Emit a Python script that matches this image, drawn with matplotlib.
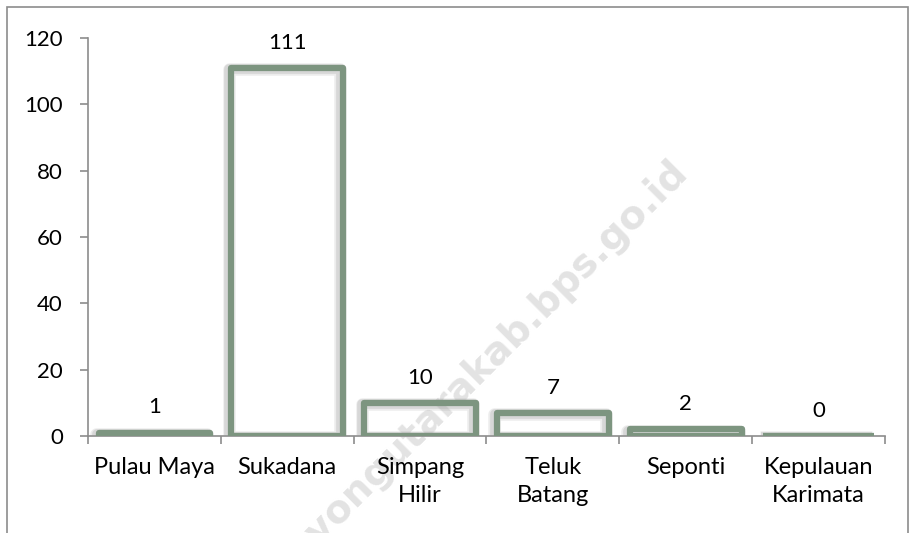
import matplotlib
matplotlib.use("Agg")
import matplotlib.pyplot as plt
import matplotlib.patches as mpatches
import matplotlib.patheffects as pe

categories = ["Pulau Maya", "Sukadana", "Simpang\nHilir", "Teluk\nBatang", "Seponti", "Kepulauan\nKarimata"]
values = [1, 111, 10, 7, 2, 0]
yticks = [0, 20, 40, 60, 80, 100, 120]

W, H = 916, 533
fig = plt.figure(figsize=(W / 100, H / 100), dpi=100)
plt.rcParams['font.family'] = ['Lato', 'DejaVu Sans']

# outer chart border
fig.patches.append(mpatches.Rectangle((7 / W, -0.05), (908 - 7) / W, 1.05 - 7 / H,
                                      transform=fig.transFigure, fill=False,
                                      edgecolor='#8c8c8c', linewidth=1.2))

ax = fig.add_axes([88 / W, 1 - 436 / H, (885 - 88) / W, (436 - 38) / H])
ax.patch.set_alpha(0)
ax.set_zorder(2)

# watermark (behind the chart)
fig.text(478 / W, 1 - 368 / H, "kayongutarakab.bps.go.id", rotation=45,
         rotation_mode='anchor', ha='center', va='center', fontsize=28,
         fontweight='bold', color='#e3e3e3', family=['DejaVu Sans'], zorder=0)

green = '#7d9580'
x = list(range(len(categories)))
bars = ax.bar(x, values, width=0.84, facecolor='none', edgecolor=green,
              linewidth=4.5, joinstyle='round', zorder=3)
for b in bars:
    b.set_path_effects([pe.Stroke(linewidth=9, foreground='#9a9a9a', alpha=0.18, offset=(-2, -1)),
                        pe.Stroke(linewidth=7, foreground='#9a9a9a', alpha=0.25, offset=(-1.5, -1)),
                        pe.Normal()])

for xi, v in zip(x, values):
    ax.annotate(str(v), (xi, v), xytext=(0, 11), textcoords='offset points',
                ha='center', va='bottom', fontsize=16, color='black')

ax.set_xlim(-0.5, len(categories) - 0.5)
ax.set_ylim(0, 120)
ax.set_yticks(yticks)
ax.set_yticklabels([str(t) for t in yticks], fontsize=16)
ax.set_xticks(x)
ax.set_xticklabels(categories, fontsize=17, linespacing=1.45)
ax.tick_params(axis='x', length=0, pad=15)
ax.set_xticks([i - 0.5 for i in range(len(categories) + 1)], minor=True)
ax.tick_params(axis='x', which='minor', length=6, color='#8c8c8c', width=1.2)
ax.tick_params(axis='y', length=6, color='#8c8c8c', width=1.2, pad=12)

for s in ['top', 'right']:
    ax.spines[s].set_visible(False)
for s in ['left', 'bottom']:
    ax.spines[s].set_color('#8c8c8c')
    ax.spines[s].set_linewidth(1.2)

fig.savefig("out.png", dpi=100)
